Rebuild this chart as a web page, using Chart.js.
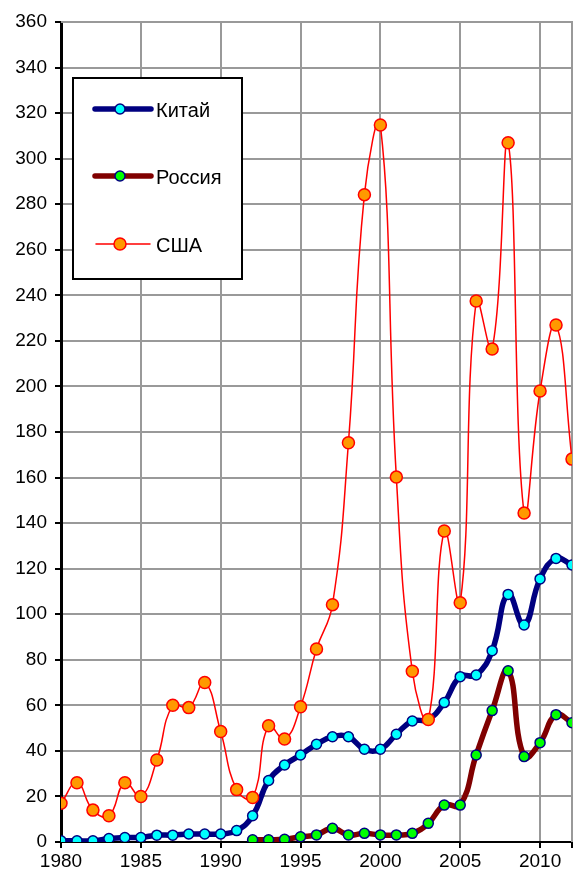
<!DOCTYPE html>
<html>
<head>
<meta charset="utf-8">
<script src="https://cdn.jsdelivr.net/npm/chart.js@4/dist/chart.umd.min.js"></script>
<style>
html,body{margin:0;padding:0;background:#fff;}
#wrap{width:574px;height:879px;}
</style>
</head>
<body>
<div id="wrap"><canvas id="c" width="574" height="879"></canvas></div>
<script>
const years = [1980,1981,1982,1983,1984,1985,1986,1987,1988,1989,1990,1991,1992,1993,1994,1995,1996,1997,1998,1999,2000,2001,2002,2003,2004,2005,2006,2007,2008,2009,2010,2011,2012];
const china = [0.5,0.5,0.5,1.5,2,2,3,3,3.5,3.5,3.5,5,11.5,27,33.8,38.2,42.9,46.2,46.2,40.7,40.7,47.3,53.1,53.8,61.2,72.6,73.3,84,108.7,95.3,115.5,124.5,121.6];
const russia = [null,null,null,null,null,null,null,null,null,null,null,null,1,1,1.2,2.3,3.1,6,3.1,3.8,3.1,3.1,3.8,8.2,16.2,16.2,38.2,57.7,75.2,37.5,43.6,55.9,52.4];
const usa = [17,26,14,11.5,26,20,36,60,59,70,48.5,23,19.5,51,45.2,59.4,84.7,104.2,175.3,284.2,314.8,160.2,75,53.8,136.5,105,237.5,216.4,307,144.4,198,227,168.1];
const xTicks = [1980,1985,1990,1995,2000,2005,2010];
const seriesNames = ['Китай','Россия','США'];

const toXY = arr => years.map((y,i)=>({x:y,y:arr[i]}));
const FONT = "'Liberation Sans', Arial, sans-serif";

const styles = [
  {line:'#000080', lw:5.5, fill:'#00FFFF', border:'#000080', r:5, bw:1.5},
  {line:'#800000', lw:5.5, fill:'#00FF00', border:'#000080', r:5, bw:1.5},
  {line:'#FF0000', lw:1.5, fill:'#FF9900', border:'#FF0000', r:6, bw:1.5}
];

const frame = {
  id:'frame',
  beforeDatasetsDraw(chart){
    const {ctx, chartArea:a} = chart;
    ctx.save();
    ctx.strokeStyle = '#999';
    ctx.lineWidth = 2;
    ctx.beginPath();
    ctx.moveTo(a.left, a.top); ctx.lineTo(a.right, a.top); ctx.lineTo(a.right, a.bottom);
    ctx.stroke();
    ctx.restore();
  },
  afterDraw(chart){
    const ctx = chart.ctx;
    ctx.save();
    const bx=73, by=78, bw=169, bh=201;
    ctx.fillStyle='#fff';
    ctx.fillRect(bx,by,bw,bh);
    ctx.strokeStyle='#000'; ctx.lineWidth=2;
    ctx.strokeRect(bx,by,bw,bh);
    const rows=[109,176,244];
    rows.forEach((yy,i)=>{
      const s=styles[i];
      ctx.strokeStyle=s.line; ctx.lineWidth=s.lw; ctx.lineCap='round';
      ctx.beginPath();
      if(i<2){ctx.moveTo(95,yy);ctx.lineTo(151,yy);} else {ctx.moveTo(96,yy);ctx.lineTo(150,yy);}
      ctx.stroke();
      ctx.beginPath(); ctx.arc(120,yy,s.r,0,Math.PI*2);
      ctx.fillStyle=s.fill; ctx.fill();
      ctx.lineWidth=s.bw; ctx.strokeStyle=s.border; ctx.stroke();
      ctx.fillStyle='#000'; ctx.font='20px '+FONT;
      ctx.textAlign='left'; ctx.textBaseline='middle';
      ctx.fillText(seriesNames[i],156,yy+2);
    });
    ctx.restore();
  }
};

const mk = (name, arr, s, order) => ({
  label:name, data:toXY(arr), order:order,
  borderColor:s.line, borderWidth:s.lw, backgroundColor:s.fill,
  pointBackgroundColor:s.fill, pointBorderColor:s.border, pointBorderWidth:s.bw,
  pointRadius:s.r, pointHoverRadius:s.r, tension:0.45, spanGaps:false,
  borderCapStyle:'round', borderJoinStyle:'round'
});

const chart = new Chart(document.getElementById('c'),{
  type:'line',
  data:{datasets:[
    mk(seriesNames[0], china, styles[0], 2),
    mk(seriesNames[1], russia, styles[1], 1),
    mk(seriesNames[2], usa, styles[2], 0)
  ]},
  options:{
    responsive:false, animation:false,
    layout:{autoPadding:false, padding:{top:22,right:1,left:0,bottom:0}},
    plugins:{legend:{display:false}, tooltip:{enabled:false}},
    scales:{
      x:{type:'linear', min:1980, max:2012,
        afterBuildTicks(sc){ sc.ticks = xTicks.concat([2012]).map(v=>({value:v})); },
        afterFit(sc){ sc.height = 37; },
        grid:{color:'#999', lineWidth:2, tickLength:6, tickColor:'#000'},
        border:{color:'#000', width:2},
        ticks:{color:'#000', font:{family:FONT,size:19}, padding:2, maxRotation:0, autoSkip:false,
          callback:(v)=> xTicks.includes(v) ? String(v) : ''}
      },
      y:{min:0, max:360,
        afterFit(sc){ sc.width = 61; },
        grid:{color:'#999', lineWidth:2, tickLength:6, tickColor:'#000'},
        border:{color:'#000', width:3},
        ticks:{stepSize:20, color:'#000', font:{family:FONT,size:19}, padding:8}
      }
    }
  },
  plugins:[frame]
});
</script>
</body>
</html>
